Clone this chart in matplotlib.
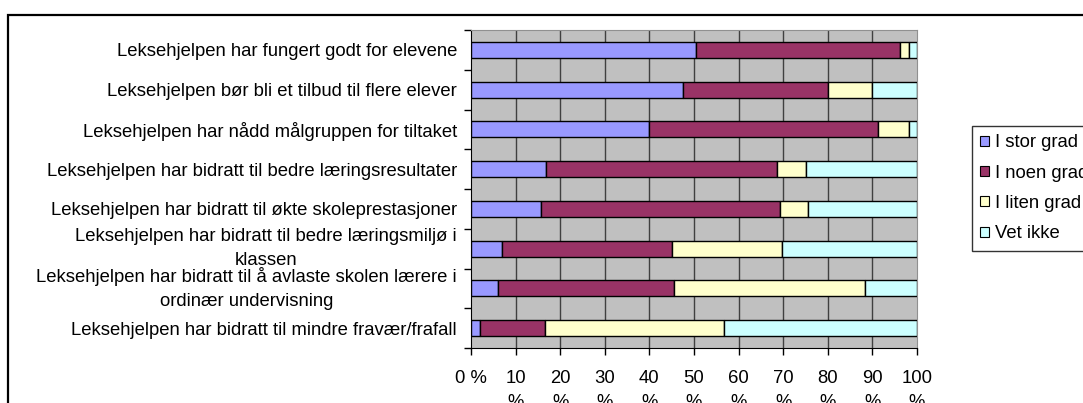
import matplotlib
matplotlib.use("Agg")
import matplotlib.pyplot as plt
import matplotlib.patches as mpatches
import numpy as np

plt.rcParams['font.family'] = ['Liberation Sans', 'DejaVu Sans']

categories = [
    "Leksehjelpen har fungert godt for elevene",
    "Leksehjelpen bør bli et tilbud til flere elever",
    "Leksehjelpen har nådd målgruppen for tiltaket",
    "Leksehjelpen har bidratt til bedre læringsresultater",
    "Leksehjelpen har bidratt til økte skoleprestasjoner",
    "Leksehjelpen har bidratt til bedre læringsmiljø i\nklassen",
    "Leksehjelpen har bidratt til å avlaste skolen lærere i\nordinær undervisning",
    "Leksehjelpen har bidratt til mindre fravær/frafall",
]
series_names = ["I stor grad", "I noen grad", "I liten grad", "Vet ikke"]
i_stor_grad  = [50.5, 47.5, 40.0, 16.8, 15.6, 7.0, 6.1, 2.1]
i_noen_grad  = [45.6, 32.6, 51.3, 51.9, 53.7, 38.0, 39.5, 14.5]
i_liten_grad = [2.2, 9.9, 6.8, 6.3, 6.3, 24.7, 42.7, 40.1]
vet_ikke     = [1.7, 10.0, 1.9, 25.0, 24.4, 30.3, 11.7, 43.3]
x_ticks = [0, 10, 20, 30, 40, 50, 60, 70, 80, 90, 100]
x_tick_labels = ["0 %"] + [f"{v}\n%" for v in x_ticks[1:]]

colors = ["#9999FF", "#993366", "#FFFFCC", "#CCFFFF"]
series = [i_stor_grad, i_noen_grad, i_liten_grad, vet_ikke]

FS = 13.3
W, H = 1083, 403
fig = plt.figure(figsize=(W / 100, H / 100), dpi=100)
fig.patch.set_facecolor("white")

# outer chart border
fig.add_artist(mpatches.Rectangle((8 / W, -0.2), 1.2, 1 - 14.5 / H + 0.2,
                                  transform=fig.transFigure, fill=False,
                                  edgecolor="black", linewidth=1.6, clip_on=False))

ax = fig.add_axes([471 / W, 1 - 348 / H, 446 / W, 318 / H])
ax.set_facecolor("#C0C0C0")

n = len(categories)
y = np.arange(n)
left = np.zeros(n)
for vals, col, name in zip(series, colors, series_names):
    ax.barh(y, vals, left=left, height=0.4, color=col, edgecolor="black",
            linewidth=1.0, label=name, zorder=3)
    left += np.array(vals)

ax.set_xlim(0, 100)
ax.set_ylim(n - 0.5, -0.5)

ax.set_xticks(x_ticks)
ax.set_xticklabels(x_tick_labels, fontsize=FS, linespacing=1.55)
for xv in x_ticks[1:-1]:
    ax.axvline(xv, color="#404040", linewidth=1.0, zorder=1)

ax.set_yticks(y)
ax.set_yticklabels(categories, fontsize=FS, multialignment="center", linespacing=1.55)
for lab in ax.get_yticklabels():
    if "\n" in lab.get_text():
        lab.set_va("center")
ax.set_yticks(np.arange(n + 1) - 0.5, minor=True)
ax.tick_params(axis="y", which="major", length=0, pad=10)
ax.tick_params(axis="y", which="minor", length=5, direction="out", width=1)
ax.tick_params(axis="x", which="major", length=5, direction="out", width=1, pad=11)

ax.spines["left"].set_color("black")
ax.spines["bottom"].set_color("black")
ax.spines["top"].set_color("#909090")
ax.spines["right"].set_color("#909090")

handles = [mpatches.Patch(facecolor=c, edgecolor="black", linewidth=0.8) for c in colors]
leg = fig.legend(handles, series_names, loc="upper left",
                 bbox_to_anchor=(972 / W, 1 - 126 / H), fontsize=FS,
                 frameon=True, fancybox=False, edgecolor="black",
                 handlelength=0.45, handleheight=0.45, handletextpad=0.35,
                 labelspacing=0.72, borderpad=0.45, borderaxespad=0)
leg.get_frame().set_linewidth(1.0)

fig.savefig("out.png", dpi=100)
